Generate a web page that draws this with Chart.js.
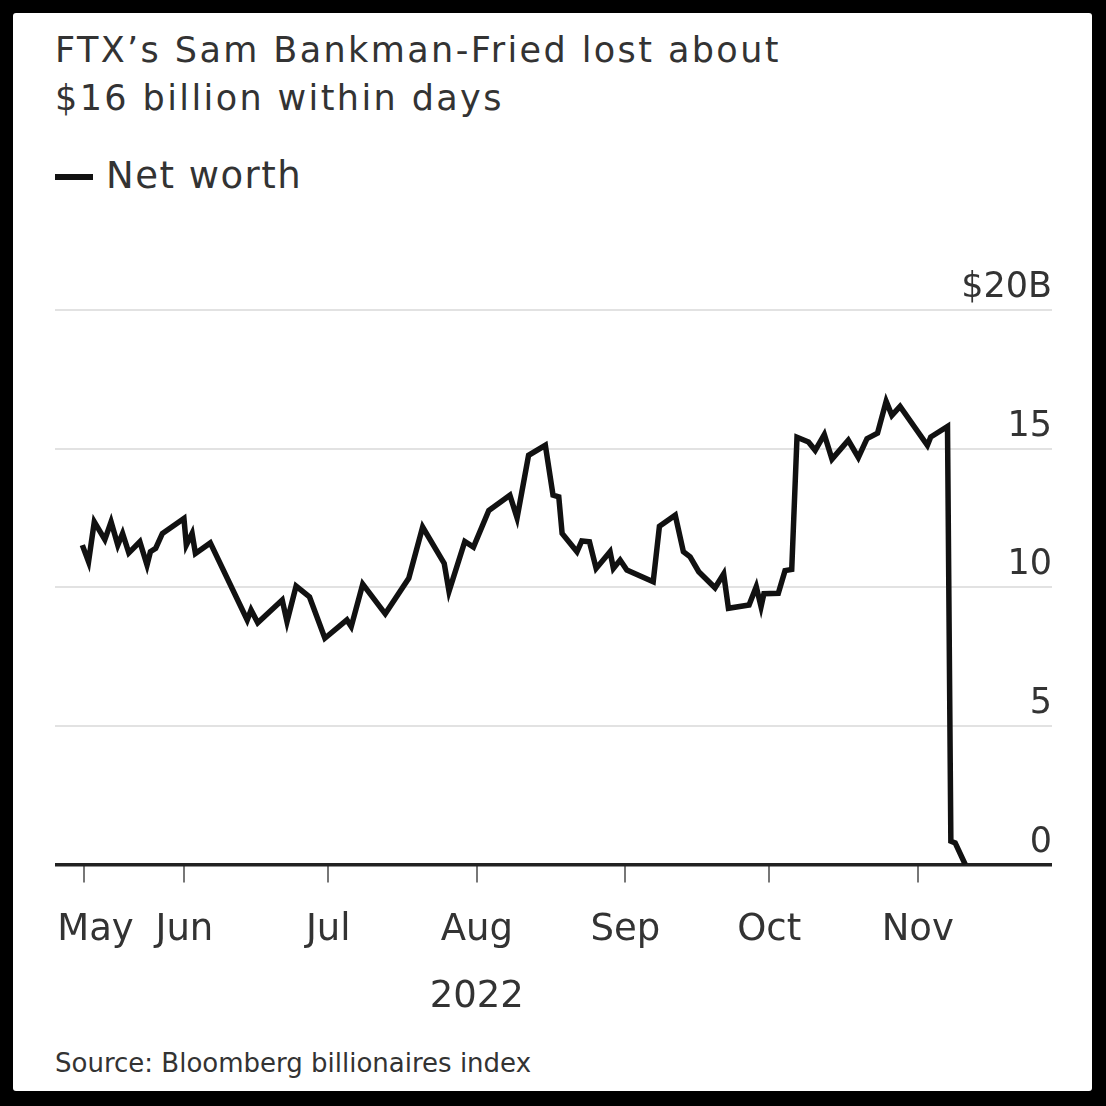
<!DOCTYPE html>
<html>
<head>
<meta charset="utf-8">
<script src="https://cdn.jsdelivr.net/npm/chart.js@4.4.1/dist/chart.umd.min.js"></script>
<style>
  html, body { margin: 0; padding: 0; background: #000; }
  body { width: 1106px; height: 1106px; position: relative; overflow: hidden;
         font-family: "DejaVu Sans", sans-serif; color: #333; }
  #panel { position: absolute; left: 13px; top: 13px; width: 1079px; height: 1078px;
           background: #fff; border-radius: 3px; }
  .txt { position: absolute; left: 55px; white-space: nowrap; }
  #title { top: 26px; font-size: 35px; line-height: 48px; letter-spacing: 2.4px; }
  #legend-key { position: absolute; left: 55px; top: 174px; width: 38px; height: 6px; background: #111; }
  #legend-text { left: 106px; top: 152px; font-size: 37px; line-height: 48px; letter-spacing: 1.5px; }
  #source { top: 1048px; font-size: 26px; line-height: 30px; }
  #chart-box { position: absolute; left: 0; top: 240px; width: 1106px; height: 800px; }
</style>
</head>
<body>
<div id="panel"></div>
<div id="title" class="txt">FTX’s Sam Bankman-Fried lost about<br>$16 billion within days</div>
<div id="legend-key"></div>
<div id="legend-text" class="txt"></div>
<div id="source" class="txt">Source: Bloomberg billionaires index</div>
<div id="chart-box"><canvas id="chart"></canvas></div>

<script>
// -------------------------
// DATA (x = days since 1 May 2022, y = net worth in $B)
// -------------------------
const seriesName = "Net worth";

const dayOffsets = [
  9.7, 11.0, 12.2, 14.4, 15.7, 17.1, 18.1, 19.4, 21.7, 23.2,
  23.9, 25.0, 26.4, 30.9, 31.4, 32.6, 33.3, 36.4, 44.1, 44.9,
  46.3, 51.4, 52.4, 54.3, 57.1, 60.3, 64.9, 65.8, 68.2, 72.9,
  77.8, 80.7, 85.2, 86.2, 89.5, 91.3, 94.5, 98.9, 100.4, 102.8,
  106.3, 107.9, 109.1, 109.8, 112.9, 113.9, 115.5, 116.9, 119.8, 120.5,
  121.9, 123.3, 128.8, 130.1, 133.4, 135.1, 136.5, 138.3, 141.7, 143.5,
  144.5, 148.8, 150.3, 151.3, 151.9, 154.9, 156.3, 157.7, 158.8, 161.2,
  162.6, 164.5, 166.1, 169.5, 171.6, 173.4, 175.6, 177.4, 178.6, 180.3,
  186.0, 186.7, 190.2, 190.9, 191.8, 193.9
];

const netWorthB = [
  11.52, 10.92, 12.36, 11.72, 12.36, 11.52, 11.94, 11.24, 11.64, 10.80,
  11.28, 11.40, 11.94, 12.48, 11.52, 11.94, 11.22, 11.60, 8.82, 9.18,
  8.72, 9.54, 8.76, 10.04, 9.65, 8.16, 8.82, 8.58, 10.11, 9.04,
  10.32, 12.17, 10.86, 9.85, 11.65, 11.45, 12.77, 13.32, 12.50, 14.76,
  15.12, 13.32, 13.26, 11.94, 11.28, 11.67, 11.64, 10.68, 11.28, 10.68,
  10.98, 10.62, 10.20, 12.20, 12.60, 11.28, 11.10, 10.56, 9.98, 10.48,
  9.24, 9.36, 10.02, 9.30, 9.77, 9.78, 10.60, 10.64, 15.41, 15.24,
  14.94, 15.51, 14.62, 15.30, 14.68, 15.36, 15.56, 16.71, 16.20, 16.52,
  15.12, 15.42, 15.80, 0.84, 0.78, 0.00
];

const monthTickDays = [10, 31, 61, 92, 123, 153, 184];
const monthTickLabels = ["May", "Jun", "Jul", ["Aug", "2022"], "Sep", "Oct", "Nov"];
const valueTicks = [0, 5, 10, 15, 20];

const FONT = '"DejaVu Sans", sans-serif';

document.getElementById("legend-text").textContent = seriesName;

// -------------------------
// CHART
// -------------------------
const ctx = document.getElementById("chart").getContext("2d");

new Chart(ctx, {
  type: "line",
  data: {
    datasets: [{
      label: seriesName,
      data: dayOffsets.map((d, i) => ({ x: d, y: netWorthB[i] })),
      borderColor: "#111",
      borderWidth: 5.5,
      pointRadius: 0,
      tension: 0,
      fill: false
    }]
  },
  options: {
    responsive: true,
    maintainAspectRatio: false,
    animation: false,
    layout: { padding: { left: 55, right: 54, top: 70, bottom: 15.5 } },
    plugins: {
      legend: { display: false },
      tooltip: { enabled: false }
    },
    scales: {
      x: {
        type: "linear",
        min: 4,
        max: 212,
        afterBuildTicks: s => { s.ticks = monthTickDays.map(v => ({ value: v })); },
        afterFit: s => { s.height = 160; },
        grid: { drawOnChartArea: false, drawTicks: true, tickLength: 18, color: "#777", lineWidth: 2 },
        border: { display: false },
        ticks: {
          autoSkip: false,
          maxRotation: 0,
          padding: 15,
          color: "#333",
          font: { family: FONT, size: 37, lineHeight: 1.8 },
          // first label sits a little right of its tick, as in the original
          callback: (v, i) => (i === 0 ? "  " + monthTickLabels[i] : monthTickLabels[i])
        }
      },
      y: {
        type: "linear",
        position: "right",
        min: 0,
        max: 20,
        afterBuildTicks: s => { s.ticks = valueTicks.map(v => ({ value: v })); },
        afterFit: s => { s.width = 0; },
        grid: {
          drawTicks: false,
          color: c => (c.tick.value === 0 ? "#222" : "#e2e2e2"),
          lineWidth: c => (c.tick.value === 0 ? 3.5 : 2)
        },
        border: { display: false },
        ticks: {
          mirror: true,
          padding: 0,
          labelOffset: -22,
          color: "#333",
          font: { family: FONT, size: 35 },
          callback: v => (v === 20 ? "$20B" : String(v))
        }
      }
    }
  }
});
</script>
</body>
</html>
